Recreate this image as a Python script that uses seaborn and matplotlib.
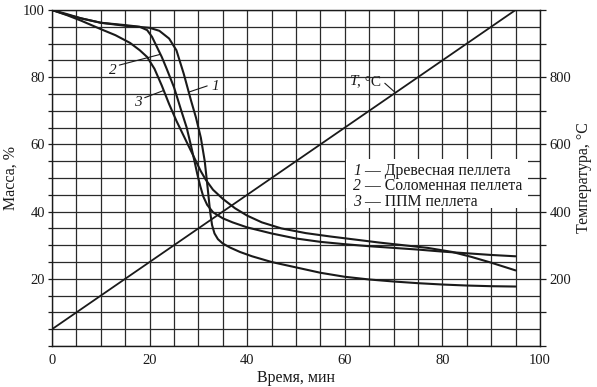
import matplotlib
matplotlib.use("Agg")
import matplotlib.pyplot as plt
import seaborn as sns
import pandas as pd
import numpy as np
from matplotlib.patches import Rectangle

# 1 - wood pellet
t1 = [0, 3, 6, 10, 15, 20, 22, 24, 25.5, 27, 28.5, 29.5, 30.5, 31.3, 31.9, 32.4, 32.8, 33.3, 34, 35,
      36.5, 38.5, 41, 45, 50, 55, 60, 65, 70, 75, 80, 85, 90, 95]
m1 = [100, 98.8, 97.5, 96.2, 95.3, 94.7, 93.8, 91.5, 88, 81, 73, 68, 62, 55, 47, 40, 36, 33.5, 31.8, 30.5,
      29.3, 28, 26.7, 25, 23.4, 21.8, 20.6, 19.8, 19.2, 18.7, 18.3, 18, 17.8, 17.7]

# 2 - straw pellet
t2 = [0, 3, 6, 10, 15, 18, 19.5, 20.5, 21.5, 22.5, 23.5, 25, 26.5, 27.6, 28.5, 29.2, 29.8, 30.4, 31, 31.8,
      33, 35, 37, 40, 45, 50, 55, 60, 65, 70, 75, 80, 85, 90, 95]
m2 = [100, 98.6, 97.5, 96.2, 95.5, 95, 94, 92, 89, 86, 82.5, 77, 70, 65, 59.5, 55, 51, 47.5, 44.5, 42,
      39.8, 38, 36.8, 35.3, 33.5, 32, 31, 30.3, 29.7, 29.2, 28.7, 28.1, 27.6, 27.1, 26.7]

# 3 - PPM pellet
t3 = [0, 3, 6, 10, 13, 16, 18, 19.5, 21, 22.5, 24, 25.5, 27, 28.5, 29.5, 30.5, 31.5, 33, 35, 37.5,
      40, 43, 47, 52, 57, 62, 67, 72, 77, 82, 86, 90, 95]
m3 = [100, 98.5, 96.8, 94.3, 92.5, 90.2, 88, 86, 82.5, 77.5, 72, 67, 62.5, 58, 55, 52, 49.5, 46.5, 43.8, 41,
      38.8, 36.8, 35, 33.6, 32.6, 31.7, 30.8, 30, 29.2, 28, 26.5, 24.8, 22.5]

# temperature
tT = [0, 95]
temp = [50, 1000]

legend_lines = [("1", " — Древесная пеллета"),
                ("2", " — Соломенная пеллета"),
                ("3", " — ППМ пеллета")]

sns.set_theme(style="white")
plt.rcParams['font.family'] = ['Liberation Serif', 'DejaVu Serif']

fig = plt.figure(figsize=(5.97, 3.87), dpi=100)
ax = fig.add_axes([0.0871, 0.1059, 0.8174, 0.8683])

ink = "#1a1a1a"
for t, m in [(t1, m1), (t2, m2), (t3, m3)]:
    df = pd.DataFrame({"t": t, "m": m})
    sns.lineplot(data=df, x="t", y="m", ax=ax, color=ink, lw=1.5, estimator=None, sort=False, zorder=3)

ax.set_xlim(0, 100)
ax.set_ylim(0, 100)
ax.set_xticks(np.arange(0, 101, 20))
ax.set_xticks(np.arange(0, 101, 5), minor=True)
ax.set_yticks(np.arange(20, 101, 20))
ax.set_yticks(np.arange(0, 101, 5), minor=True)
ax.set_axisbelow(True)
ax.grid(which="both", color="#2a2a2a", lw=0.9)
ax.tick_params(axis="x", which="both", length=0, labelsize=10.5, colors=ink, pad=6)
ax.tick_params(axis="y", which="both", length=3, width=0.9, labelsize=10.5, colors=ink, pad=2)
for s in ax.spines.values():
    s.set_color(ink)
    s.set_linewidth(1.0)
ax.set_xlabel("Время, мин", fontsize=11.5, color=ink, labelpad=2)
ax.set_ylabel("Масса, %", fontsize=11.5, color=ink, labelpad=3)

ax2 = ax.twinx()
dT = pd.DataFrame({"t": tT, "T": temp})
sns.lineplot(data=dT, x="t", y="T", ax=ax2, color=ink, lw=1.3, estimator=None)
ax2.set_ylim(0, 1000)
ax2.set_yticks(np.arange(0, 1001, 100))
ax2.set_yticklabels(["" if v % 200 or v in (0, 1000) else str(v) for v in range(0, 1001, 100)])
ax2.tick_params(axis="y", length=4, width=0.9, labelsize=10.5, colors=ink, pad=3)
ax2.set_ylabel("Температура, °C", fontsize=11.5, color=ink, labelpad=3)
for s in ax2.spines.values():
    s.set_visible(False)

# legend box
ax.add_patch(Rectangle((60.2, 41.2), 37.4, 14.4, facecolor="white", edgecolor="none", zorder=4))
for i, (num, txt) in enumerate(legend_lines):
    y = 52.0 - i * 4.5
    ax.text(61.7, y, num, style="italic", fontsize=11.3, color=ink, va="center", zorder=5)
    ax.text(63.3, y, txt, fontsize=11.3, color=ink, va="center", zorder=5)

# curve labels
ax.text(32.6, 77.2, "1", style="italic", fontsize=11, color=ink, va="center", zorder=5)
ax.plot([28.1, 31.8], [75.6, 77.4], color=ink, lw=0.8, zorder=5)
ax.text(11.6, 82.0, "2", style="italic", fontsize=11, color=ink, va="center", zorder=5)
ax.plot([13.8, 22.2], [83.6, 86.8], color=ink, lw=0.8, zorder=5)
ax.text(16.8, 72.6, "3", style="italic", fontsize=11, color=ink, va="center", zorder=5)
ax.plot([19.0, 22.8], [73.9, 76.0], color=ink, lw=0.8, zorder=5)

ax.text(61.0, 78.6, "T", style="italic", fontsize=11, color=ink, va="center", zorder=5)
ax.text(62.5, 78.6, ", °C", fontsize=11, color=ink, va="center", zorder=5)
ax.plot([68.2, 70.3], [78.2, 75.5], color=ink, lw=0.8, zorder=5)

fig.savefig("out.png", dpi=100, facecolor="white")
